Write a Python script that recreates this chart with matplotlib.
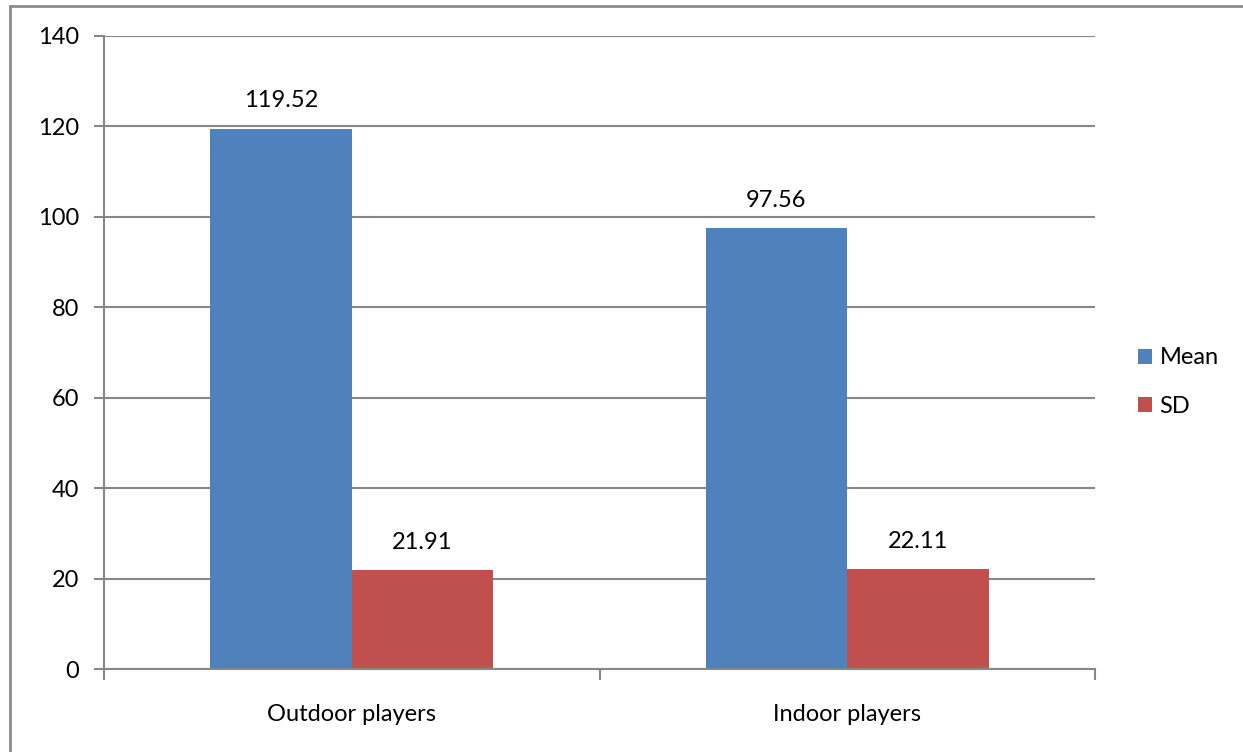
import numpy as np
import matplotlib
matplotlib.use('Agg')
import matplotlib.pyplot as plt
from matplotlib.lines import Line2D

plt.rcParams['font.family'] = ['Lato', 'DejaVu Sans']

# data
categories = ['Outdoor players', 'Indoor players']
mean_vals = [119.52, 97.56]
sd_vals = [21.91, 22.11]
series_names = ['Mean', 'SD']

blue = '#4F81BD'
red = '#C0504D'
grid_c = '#878787'
fs = 17

fig = plt.figure(figsize=(12.43, 7.52), dpi=100)
ax = fig.add_axes([104/1243, 83/752, (1095-104)/1243, (669-36)/752])

x = np.arange(len(categories))
w = 0.2857
b1 = ax.bar(x - w/2, mean_vals, w, color=blue, label=series_names[0])
b2 = ax.bar(x + w/2, sd_vals, w, color=red, label=series_names[1])

# value labels above bars
for bars, vals in [(b1, mean_vals), (b2, sd_vals)]:
    for r, v in zip(bars, vals):
        ax.annotate(f'{v:.2f}', (r.get_x() + r.get_width()/2, v),
                    xytext=(0, 20), textcoords='offset points',
                    ha='center', va='center', fontsize=fs)

ax.set_ylim(0, 140)
ax.set_yticks(np.arange(0, 141, 20))
ax.set_xlim(-0.5, 1.5)
ax.set_xticks([-0.5, 0.5, 1.5])
ax.set_xticklabels([])
ax.set_xticks(x, minor=True)
ax.set_xticklabels(categories, minor=True)
ax.tick_params(axis='x', which='minor', length=0, pad=25, labelsize=fs)
ax.tick_params(axis='x', which='major', length=8, width=1.5, color=grid_c)
ax.tick_params(axis='y', length=7, width=1.5, color=grid_c, pad=11, labelsize=fs)

ax.yaxis.grid(True, color=grid_c, linewidth=1.5)
ax.set_axisbelow(True)
for s in ['top', 'right']:
    ax.spines[s].set_visible(False)
for s in ['left', 'bottom']:
    ax.spines[s].set_color(grid_c)
    ax.spines[s].set_linewidth(1.5)

ax.legend(loc='center left', bbox_to_anchor=(1117/1243, 370/752),
          bbox_transform=fig.transFigure, frameon=False, fontsize=fs,
          handlelength=0.6, handleheight=0.6, handletextpad=0.3,
          labelspacing=1.15)

# outer chart border (only left and top visible)
fig.add_artist(Line2D([10/1243, 10/1243], [0, 1 - 6/752], transform=fig.transFigure,
                      color='#8c8c8c', linewidth=2))
fig.add_artist(Line2D([10/1243, 1], [1 - 6/752, 1 - 6/752], transform=fig.transFigure,
                      color='#8c8c8c', linewidth=2))

fig.savefig('out.png', dpi=100)
